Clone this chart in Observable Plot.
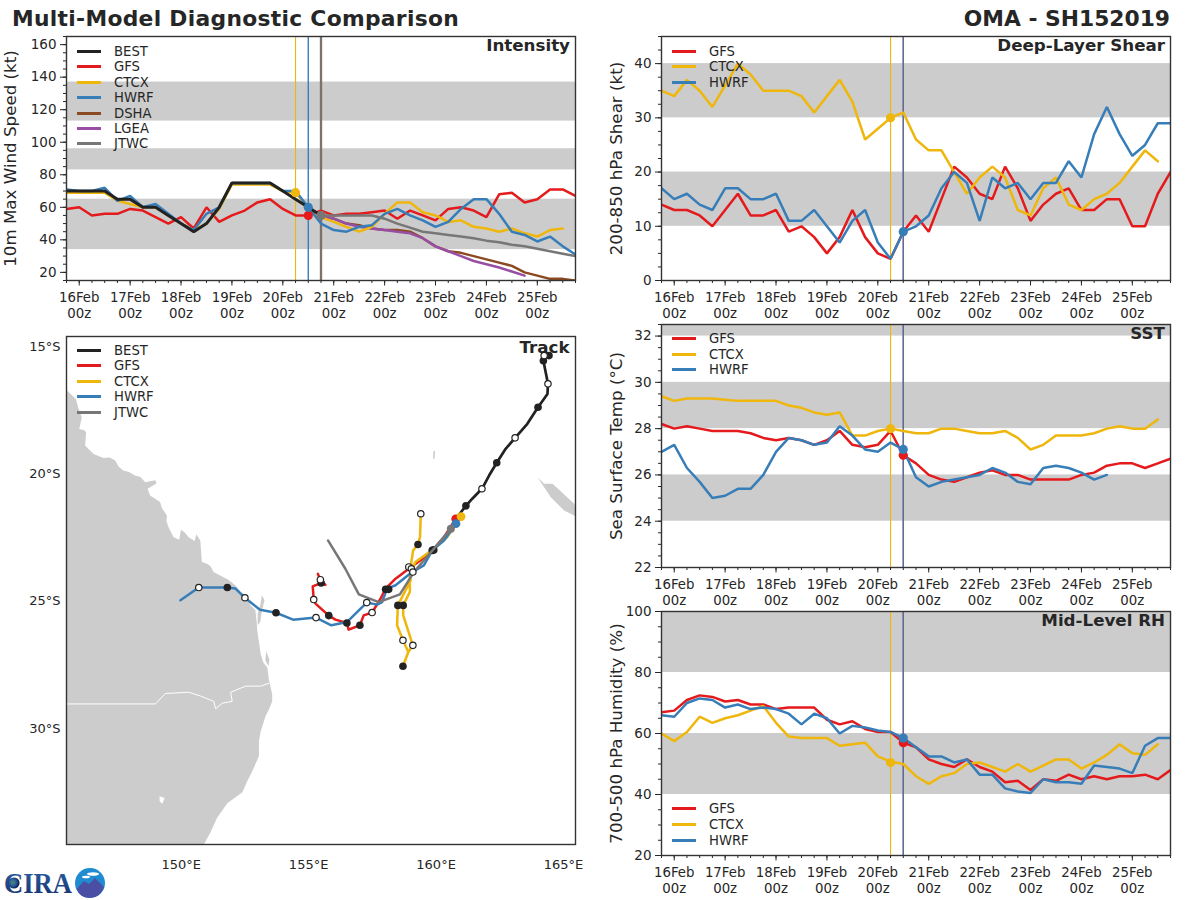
<!DOCTYPE html>
<html>
<head>
<meta charset="utf-8">
<style>
html,body{margin:0;padding:0;background:#fff;}
#page{position:relative;width:1200px;height:900px;overflow:hidden;font-family:"DejaVu Sans",sans-serif;color:#262626;}
.panel{position:absolute;}
.panel svg{display:block;}
.ttl{position:absolute;top:5px;font-weight:bold;font-size:21.8px;white-space:nowrap;line-height:27px;}
.lg{position:absolute;font-size:13.2px;line-height:15px;white-space:nowrap;}
.lg i{position:absolute;display:block;height:3px;width:24px;left:-37px;top:6px;}
</style>
<script src="https://cdn.jsdelivr.net/npm/d3@7"></script>
<script src="https://cdn.jsdelivr.net/npm/@observablehq/plot@0.6"></script>
</head>
<body>
<div id="page"></div>
<script>
// ---- shared labels ----
const dayLabels = ["16Feb","17Feb","18Feb","19Feb","20Feb","21Feb","22Feb","23Feb","24Feb","25Feb"];
const hourLabel = "00z";
const colors = {BEST:"#222222",GFS:"#e41a1c",CTCX:"#efb60c",HWRF:"#377eb8",DSHA:"#8c4a23",LGEA:"#984ea3",JTWC:"#777777"};

// ---- intensity (kt), 6-hourly from 15Feb 18z ----
const vmaxBEST = [70,70,70,70,65,65,60,60,55,50,45,50,60,75,75,75,75,70,65,60,55];
const vmaxGFS  = [59,60,55,56,56,59,58,54,50,54,47,60,51,55,58,63,65,59,55,55,58,55,56,56,57,58,53,58,55,52,59,60,58,54,68,69,63,65,71,71,67];
const vmaxCTCX = [69,69,69,69,64,62,60,60,55,50,46,50,59,74,74,74,74,70,69,60,54,51,48,45,48,56,63,63,57,55,51,52,48,47,45,47,44,42,46,47];
const vmaxHWRF = [71,70,70,72,64,67,60,62,56,50,46,56,60,75,75,75,75,70,70,60,50,46,45,48,49,56,59,55,52,48,51,59,65,65,56,45,43,39,42,36,31];
const vmaxDSHA = [55,53,50,49,47,46,46,45,41,36,33,32,30,28,26,24,20,18,16,16,15]; // from index 20
const vmaxLGEA = [55,53,50,48,47,46,45,44,41,36,33,30,27,25,23,20.5,18];            // from index 20
const vmaxJTWC = [55,55,55,55,55,53,50,47.5,45,44,43,42,41,39.5,38.5,37,36,34.5,33,31.5,30]; // from index 20
const vmaxBands = [[34,65],[83,96],[113,137]];

// ---- deep-layer shear (kt) ----
const shearGFS  = [14,13,13,12,10,13,16,12,12,13,9,10,8,5,8,13,8,5,4,9,12,9,15,21,19,16,15,21,17,11,14,16,17,13,13,15,15,10,10,16,20];
const shearCTCX = [35,34,37,35,32,36,40,38,35,35,35,34,31,34,37,33,26,28,30,31,26,24,24,20,16,19,21,19,13,12,17,19,14,13,15,16,18,21,24,22];
const shearHWRF = [17,15,16,14,13,17,17,15,15,16,11,11,13,10,7,11,13,7,4,9,10,12,17,20,18,11,19,17,18,15,18,18,22,19,27,32,27,23,25,29,29];
const shearBands = [[10,20],[30,40]];

// ---- SST (deg C) ----
const sstGFS  = [28.2,28.0,28.1,28.0,27.9,27.9,27.9,27.8,27.6,27.5,27.6,27.5,27.3,27.5,27.9,27.3,27.2,27.3,27.9,26.85,26.5,26.0,25.8,25.7,25.9,26.1,26.2,26.0,26.0,25.8,25.8,25.8,25.8,26.0,26.1,26.4,26.5,26.5,26.3,26.5,26.7];
const sstCTCX = [29.4,29.2,29.3,29.3,29.3,29.25,29.2,29.2,29.2,29.2,29.0,28.9,28.7,28.6,28.7,27.7,27.7,27.9,28.0,27.9,27.8,27.8,28.0,28.0,27.9,27.8,27.8,27.9,27.6,27.1,27.3,27.7,27.7,27.7,27.8,28.0,28.1,28.0,28.0,28.4];
const sstHWRF = [27.0,27.3,26.3,25.7,25.0,25.1,25.4,25.4,26.0,27.0,27.6,27.5,27.3,27.4,28.1,27.7,27.1,27.0,27.4,27.1,25.9,25.5,25.7,25.8,25.9,26.0,26.3,26.1,25.7,25.6,26.3,26.4,26.3,26.1,25.8,26.0];
const sstBands = [[24,26],[28,30],[32,32.5]];

// ---- mid-level RH (%) ----
const rhGFS  = [67,67.5,71,72.5,72,70.5,71,69.5,69.5,68,68.5,68.5,68.5,64.5,63,64,61.5,60.5,60.5,57,55.5,51.5,50,49,51.5,49,47.5,44,44.5,41.5,45,44.5,46.5,45,46,45,46,46,46.5,45,48];
const rhCTCX = [60,57.5,60.5,65.5,63.5,65,66,67.5,69,63.5,59,58.5,58.5,58.5,56,56.5,57,52.5,50.8,50,46,43.5,46,47,50,50.5,49,47.5,50,47.5,49.5,51.5,51.5,48.5,50.5,53,56.5,53.5,53,56.5];
const rhHWRF = [66,65.5,70,71.5,71,68.5,69.5,68,68.5,68,66.5,63,66.5,65,60,62.5,62,61,60.5,58.5,55.5,52.5,52.5,50.5,51.5,46.5,46.5,42,41,40.5,45,44,44,43.5,49.5,49,48.5,47,56,58.5,58.5];
const rhBands = [[40,60],[80,100]];

// ---- tracks [lon (deg E), lat (deg S)] ----
const trackBEST = [[164.43,15.35],[164.24,15.35],[164.21,15.55],[164.39,16.46],[164.37,16.86],[164.0,17.38],[163.58,18.03],[163.10,18.58],[162.73,19.01],[162.38,19.56],[162.08,20.06],[161.80,20.58],[161.42,20.97],[161.17,21.25],[160.83,21.69],[160.58,22.15]];
const trackGFS = [[160.77,21.76],[160.31,22.48],[159.91,22.94],[159.39,23.39],[158.93,23.72],[158.41,24.11],[158.02,24.50],[157.82,24.90],[157.49,25.44],[157.16,25.55],[157.01,25.94],[156.57,26.11],[156.50,25.85],[156.05,25.72],[155.79,25.56],[155.27,25.09],[155.2,24.93],[155.16,24.41],[155.49,24.28],[155.66,24.35],[155.46,24.15],[155.36,23.92]];
const trackCTCX = [[160.98,21.67],[160.44,22.48],[159.91,22.94],[159.19,23.46],[158.97,23.92],[158.97,24.63],[158.71,25.16],[158.71,25.55],[159.09,26.73],[158.91,26.99],[158.70,27.55],[158.91,26.99],[158.70,26.53],[158.47,25.94],[158.5,25.16],[159.0,24.18],[159.0,23.65],[159.1,23.0],[159.29,22.77],[159.37,22.48],[159.40,21.56]];
const trackHWRF = [[160.78,21.95],[160.31,22.61],[159.85,23.0],[159.52,23.59],[159.06,23.85],[158.41,24.37],[158.08,24.50],[157.88,25.03],[157.69,25.13],[157.28,25.05],[156.51,25.81],[155.89,25.94],[155.29,25.64],[154.39,25.72],[153.72,25.45],[153.09,25.33],[152.5,24.86],[152.13,24.5],[151.81,24.46],[150.69,24.46],[149.97,24.96]];
const trackJTWC = [[160.58,22.15],[159.91,22.94],[159.13,23.85],[158.58,24.73],[157.75,25.03],[156.97,24.73],[156.44,23.72],[155.76,22.61]];
const nodesFilled = [[164.43,15.35],[164.21,15.55],[164.0,17.38],[162.38,19.56],[161.17,21.25],[159.91,22.98],[159.85,23.0],[158.02,24.53],[158.14,24.53],[157.01,25.94],[156.50,25.85],[155.79,25.56],[155.49,24.28],[159.29,22.77],[158.71,25.16],[158.5,25.16],[158.70,27.55],[153.72,25.45],[151.81,24.46]];
const nodesOpen = [[164.24,15.35],[164.39,16.46],[163.10,18.58],[161.80,20.58],[158.93,23.65],[159.03,23.72],[159.09,23.85],[157.49,25.44],[157.28,25.05],[155.2,24.93],[155.46,24.15],[155.29,25.64],[152.5,24.86],[150.69,24.46],[159.09,26.73],[158.70,26.53],[159.40,21.56]];
const trackEnds = [["GFS",160.77,21.76],["CTCX",160.98,21.67],["HWRF",160.78,21.95],["JTWC",160.58,22.15]];

// ---- land outlines [lon, lat] ----
const landAustralia = [[145.53,16.73],[145.87,17.05],[145.96,17.4],[146.10,17.77],[146.0,18.23],[146.2,18.28],[146.27,18.36],[146.23,18.88],[146.56,19.21],[146.95,19.37],[147.2,19.35],[147.41,19.47],[147.55,19.72],[147.73,19.86],[147.95,19.92],[148.19,20.06],[148.4,20.12],[148.59,20.32],[148.98,20.25],[149.04,20.36],[148.68,20.58],[148.78,20.84],[149.17,21.1],[149.25,21.35],[149.44,21.63],[149.42,21.85],[149.50,22.08],[149.70,22.48],[149.92,22.58],[149.99,22.19],[150.14,22.3],[150.29,22.48],[150.53,22.63],[150.59,22.37],[150.75,22.61],[150.78,23.0],[150.81,23.46],[151.01,23.52],[151.15,23.62],[151.27,23.85],[151.66,24.05],[151.85,24.15],[152.12,24.37],[152.35,24.65],[152.58,24.83],[152.72,25.15],[152.91,25.35],[152.96,25.8],[152.98,26.1],[153.05,26.6],[153.12,27.08],[153.22,27.4],[153.38,27.6],[153.44,28.07],[153.57,28.65],[153.57,28.93],[153.42,29.3],[153.31,29.50],[153.12,30.1],[153.05,30.50],[153.05,31.07],[152.82,31.6],[152.59,32.07],[152.40,32.50],[151.81,32.93],[151.41,33.50],[151.15,34.07],[150.89,34.55],[145.45,34.55],[145.45,16.60]];
const landFraser = [[153.17,24.76],[153.27,24.96],[153.17,25.35],[153.10,25.81],[153.0,25.94],[153.0,25.48],[153.10,25.16]];
const landMoreton = [[153.34,26.95],[153.46,27.3],[153.42,27.55],[153.30,27.3]];
const landNewCaledonia = [[163.98,20.13],[164.24,20.38],[164.57,20.38],[165.42,21.17],[165.6,21.8],[165.42,21.63],[165.02,21.43],[164.5,20.91]];
const landIslet = [[159.90,19.1],[159.96,19.1],[159.94,19.4],[159.88,19.4]];
const stateBorder = [[145.45,29.03],[148.99,29.03],[149.38,28.62],[150.30,28.57],[150.76,28.72],[151.28,28.93],[151.35,29.22],[151.61,29.0],[152.0,28.93],[151.94,28.57],[152.53,28.33],[153.12,28.33],[153.44,28.22]];
const inlandWater = [[149.15,32.66],[149.35,32.72],[149.26,32.95],[149.15,32.85]];
const lonTicks = [150,155,160,165];
const latTicks = [15,20,25,30];

// ---- helpers ----
const page = document.getElementById("page");
const ink = "#262626";
const lab = i => dayLabels[(i-1)/4] + "\n" + hourLabel;
const majorX = d3.range(1,41,4);
const band = arr => Plot.rect(arr,{x1:()=>0,x2:()=>40,y1:d=>d[0],y2:d=>d[1],fill:"#cccccc"});
const series = (vals,name,start=0,w=2.5) => Plot.line(vals,{x:(d,i)=>start+i,y:d=>d,stroke:colors[name],strokeWidth:w,curve:"linear",strokeLinejoin:"miter",clip:true});
const vline = (i,c,w,o=1) => Plot.ruleX([i],{stroke:c,strokeWidth:w,strokeOpacity:o});
const node = (i,v,name) => Plot.dot([[i,v]],{x:d=>d[0],y:d=>d[1],r:4.6,fill:colors[name],stroke:"none"});

function mount(svg,left,top){
  const d=document.createElement("div");d.className="panel";d.style.left=left+"px";d.style.top=top+"px";
  d.appendChild(svg);page.appendChild(d);
}
function legend(names,left,rows){
  names.forEach((n,k)=>{
    const e=document.createElement("div");e.className="lg";e.style.left=left+"px";e.style.top=(rows[k]-7.5)+"px";
    e.innerHTML='<i style="background:'+colors[n]+'"></i>'+n;page.appendChild(e);
  });
}
function tsPanel({left,top,width,height,mt,mb,ml,mr,ydomain,yticks,yminor,ylabel,labelDx,title,bands,marks}){
  return mount(Plot.plot({
    width,height,marginTop:mt,marginBottom:mb,marginLeft:ml,marginRight:mr,
    style:{background:"transparent",overflow:"visible",fontFamily:"'DejaVu Sans',sans-serif",color:ink},
    x:{domain:[0,40]},
    y:{domain:ydomain},
    marks:[
      band(bands),
      ...marks,
      Plot.axisX({ticks:d3.range(0,41),tickSize:3,tickFormat:()=>"",label:null,stroke:ink}),
      Plot.axisX({ticks:majorX,tickSize:5.5,tickPadding:4,tickFormat:lab,label:null,fontSize:13.3,lineHeight:1.25,stroke:ink,fill:ink}),
      Plot.axisY({ticks:yminor,tickSize:3,tickFormat:()=>"",label:null,stroke:ink}),
      Plot.axisY({ticks:yticks,tickSize:6,tickPadding:4,label:null,fontSize:13.5,stroke:ink,fill:ink,tickFormat:d=>d}),
      Plot.frame({stroke:"#333",strokeWidth:1.4}),
      Plot.text([ylabel],{text:d=>d,frameAnchor:"left",textAnchor:"middle",dx:labelDx,rotate:-90,fontSize:16.7,fill:ink}),
      Plot.text([title],{text:d=>d,frameAnchor:"top-right",dx:-5.5,dy:3,fontSize:16.7,fontWeight:"bold",fill:ink})
    ]
  }),left,top);
}

// ---- titles ----
const t1=document.createElement("div");t1.className="ttl";t1.style.left="12px";t1.style.letterSpacing=".3px";t1.textContent="Multi-Model Diagnostic Comparison";page.appendChild(t1);
const t2=document.createElement("div");t2.className="ttl";t2.style.right="30px";t2.textContent="OMA - SH152019";page.appendChild(t2);

// ---- Intensity ----
tsPanel({left:0,top:0,width:600,height:320,mt:36,mb:40,ml:66,mr:25,
  ydomain:[15,165],yticks:d3.range(20,161,20),yminor:d3.range(15,166,5),
  ylabel:"10m Max Wind Speed (kt)",labelDx:-56,title:"Intensity",bands:vmaxBands,
  marks:[
    vline(18,colors.CTCX,1.1),vline(19,colors.HWRF,1.4),
    vline(20,"#8c4a23",2,.9),vline(20,colors.JTWC,2.4,.85),
    series(vmaxDSHA,"DSHA",20),series(vmaxLGEA,"LGEA",20),
    series(vmaxGFS,"GFS"),series(vmaxCTCX,"CTCX"),series(vmaxHWRF,"HWRF"),
    series(vmaxJTWC,"JTWC",20),series(vmaxBEST,"BEST",0,3),
    node(19,55,"GFS"),node(18,69,"CTCX"),node(19,60,"HWRF"),node(20,55,"JTWC")
  ]});

// ---- Deep-layer shear ----
tsPanel({left:600,top:0,width:600,height:320,mt:36,mb:40,ml:61,mr:30,
  ydomain:[0,45],yticks:d3.range(0,41,10),yminor:d3.range(0,46,2.5),
  ylabel:"200-850 hPa Shear (kt)",labelDx:-45,title:"Deep-Layer Shear",bands:shearBands,
  marks:[
    vline(18,colors.CTCX,1.1),vline(19,colors.GFS,1.2),vline(19,colors.HWRF,1.4,.85),
    series(shearGFS,"GFS"),series(shearCTCX,"CTCX"),series(shearHWRF,"HWRF"),
    node(18,30,"CTCX"),node(19,9,"HWRF")
  ]});

// ---- SST ----
tsPanel({left:600,top:300,width:600,height:310,mt:24,mb:43,ml:61,mr:30,
  ydomain:[22,32.5],yticks:d3.range(22,33,2),yminor:d3.range(22,32.6,.5),
  ylabel:"Sea Surface Temp (°C)",labelDx:-45,title:"SST",bands:sstBands,
  marks:[
    vline(18,colors.CTCX,1.1),vline(19,colors.GFS,1.2),vline(19,colors.HWRF,1.4,.85),
    series(sstGFS,"GFS"),series(sstCTCX,"CTCX"),series(sstHWRF,"HWRF"),
    node(19,26.85,"GFS"),node(18,28.0,"CTCX"),node(19,27.1,"HWRF")
  ]});

// ---- RH ----
tsPanel({left:600,top:590,width:600,height:310,mt:21,mb:45,ml:61,mr:30,
  ydomain:[20,100],yticks:d3.range(20,101,20),yminor:d3.range(20,101,5),
  ylabel:"700-500 hPa Humidity (%)",labelDx:-45,title:"Mid-Level RH",bands:rhBands,
  marks:[
    vline(18,colors.CTCX,1.1),vline(19,colors.GFS,1.2),vline(19,colors.HWRF,1.4,.85),
    series(rhGFS,"GFS"),series(rhCTCX,"CTCX"),series(rhHWRF,"HWRF"),
    node(19,57,"GFS"),node(18,50.5,"CTCX"),node(19,58.5,"HWRF")
  ]});

// ---- Track ----
const landPoly = (pts,c="#cccccc") => Plot.line(pts,{x:d=>d[0],y:d=>d[1],fill:c,stroke:"none",clip:true});
const trackLine = (pts,n,w=2.5) => Plot.line(pts,{x:d=>d[0],y:d=>d[1],stroke:colors[n],strokeWidth:w,clip:true});
mount(Plot.plot({
  width:600,height:560,marginTop:16,marginBottom:36,marginLeft:66,marginRight:25,
  style:{background:"transparent",overflow:"visible",fontFamily:"'DejaVu Sans',sans-serif",color:ink},
  x:{domain:[145.5,165.47]},
  y:{domain:[14.6,34.55],reverse:true},
  marks:[
    landPoly(landAustralia),landPoly(landFraser),landPoly(landMoreton),landPoly(landNewCaledonia),landPoly(landIslet),
    Plot.line(stateBorder,{x:d=>d[0],y:d=>d[1],stroke:"#ffffff",strokeWidth:1,clip:true}),
    landPoly(inlandWater,"#ffffff"),
    trackLine(trackBEST,"BEST",2.7),trackLine(trackGFS,"GFS"),trackLine(trackCTCX,"CTCX"),trackLine(trackHWRF,"HWRF"),
    Plot.dot(nodesFilled,{x:d=>d[0],y:d=>d[1],r:3.8,fill:"#222222",stroke:"none"}),
    Plot.dot(trackEnds.slice(0,3),{x:d=>d[1],y:d=>d[2],r:4.4,fill:d=>colors[d[0]],stroke:"none"}),
    trackLine(trackJTWC,"JTWC"),
    Plot.dot(trackEnds.slice(3),{x:d=>d[1],y:d=>d[2],r:4,fill:d=>colors[d[0]],stroke:"none"}),
    Plot.dot(nodesOpen,{x:d=>d[0],y:d=>d[1],r:3.2,fill:"#ffffff",stroke:"#222222",strokeWidth:1.2}),
    Plot.axisX({ticks:lonTicks,tickSize:0,tickPadding:15,tickFormat:d=>d+"°E",label:null,fontSize:13,fill:ink}),
    Plot.axisY({ticks:latTicks,tickSize:0,tickPadding:6,tickFormat:d=>d+"°S",label:null,fontSize:13,fill:ink}),
    Plot.frame({stroke:"#333",strokeWidth:1.4}),
    Plot.text(["Track"],{text:d=>d,frameAnchor:"top-right",dx:-6,dy:5,fontSize:16.7,fontWeight:"bold",fill:ink})
  ]
}),0,320);

// ---- legends ----
legend(["BEST","GFS","CTCX","HWRF","DSHA","LGEA","JTWC"],114,[51,66.5,82,97,113,128,143]);
legend(["GFS","CTCX","HWRF"],709,[51,66.5,82]);
legend(["BEST","GFS","CTCX","HWRF","JTWC"],114,[350,365.5,381,396.5,412]);
legend(["GFS","CTCX","HWRF"],709,[338.5,354,369.5]);
legend(["GFS","CTCX","HWRF"],709,[808.5,824,840]);

// ---- logo ----
const logo=document.createElement("div");
logo.style.cssText="position:absolute;left:0;top:860px;width:120px;height:40px;";
logo.innerHTML=`<svg width="120" height="40" viewBox="0 0 120 40">
<defs><radialGradient id="g1" cx=".4" cy=".45"><stop offset="0" stop-color="#4f8a6a"/><stop offset=".6" stop-color="#2a5f9c"/><stop offset="1" stop-color="#14295f"/></radialGradient>
<linearGradient id="g2" x1="0" y1="0" x2="0" y2="1"><stop offset="0" stop-color="#2e63a6"/><stop offset="1" stop-color="#16306e"/></linearGradient></defs>
<text x="4" y="33" font-family="Liberation Serif,serif" font-weight="bold" font-size="30" fill="url(#g2)" textLength="68" lengthAdjust="spacingAndGlyphs">CIRA</text>
<circle cx="14" cy="23" r="5.6" fill="url(#g1)"/>
<circle cx="90" cy="23" r="15" fill="#1f8bd0"/><path d="M76.5 29 L84 21 L89 24 L95 18 L104 27 Q100 38 90 38 Q80 38 76.5 29Z" fill="#4b4fa3"/>
<ellipse cx="93" cy="14" rx="6" ry="1.8" fill="#fff"/><ellipse cx="86" cy="17" rx="4" ry="1.3" fill="#fff"/></svg>`;
page.appendChild(logo);
</script>
</body>
</html>
